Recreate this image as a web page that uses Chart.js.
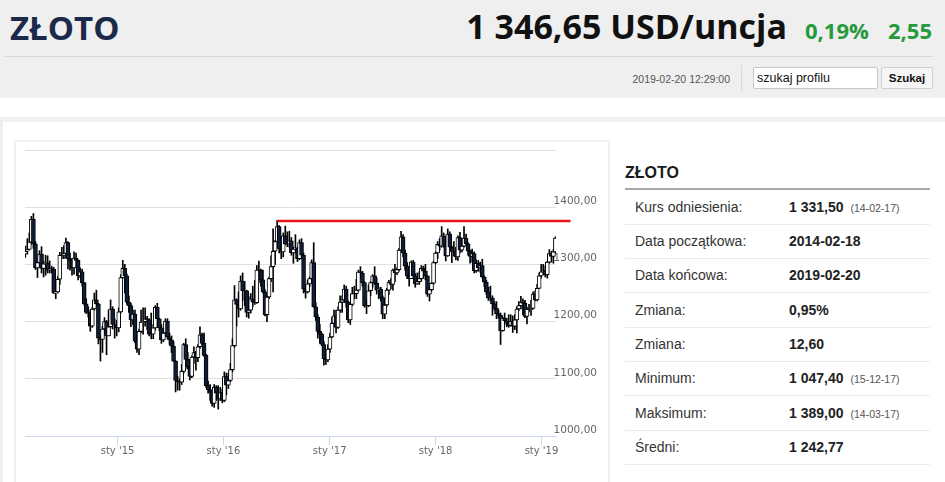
<!DOCTYPE html>
<html lang="pl">
<head>
<meta charset="utf-8">
<script src="https://cdn.jsdelivr.net/npm/chart.js@4.4.1/dist/chart.umd.min.js"></script>
<style>
  body { margin: 0; width: 945px; height: 482px; overflow: hidden; background: #efefef; position: relative;
         font-family: "Liberation Sans", Arial, sans-serif; }
  .abs { position: absolute; }
  #title { left: 10px; top: 11px; font: 700 33px/33px "Open Sans"; color: #1b2a4a; white-space: nowrap; }
  #price { right: 158px; top: 9px; font: 700 34px/34px "Open Sans"; color: #111; white-space: nowrap; }
  .green { top: 19px; font: 700 22px/22px "Open Sans"; color: #269a3c; white-space: nowrap; }
  #hline { left: 5px; top: 56px; width: 928px; height: 1px; background: #d6d6d6; }
  #stamp { right: 215px; top: 72px; font-size: 10.5px; line-height: 14px; color: #555; }
  #sep { left: 741px; top: 65px; width: 1px; height: 26px; background: #d9d9d9; }
  #search { left: 753px; top: 67px; height: 20px; background: #fff; border: 1px solid #c8c8c8;
            border-radius: 2px; font-size: 12.5px; line-height: 20px; padding-left: 3px; width: 120px; color: #111; }
  #btn { left: 881px; top: 67px; width: 50px; height: 20px; background: #f5f5f5; border: 1px solid #cfcfcf;
         border-radius: 2px; font-weight: 700; font-size: 11.5px; line-height: 20px; text-align: center; color: #111; }
  #strip { left: 0; top: 98px; width: 945px; height: 19px; background: #fff; }
  #panel { left: 3px; top: 122px; width: 942px; height: 360px; background: #fff; }
  #box { left: 14px; top: 140px; width: 596px; height: 400px; border: 2px solid #f0f0f0; box-sizing: border-box; }
  #wrap { left: 14px; top: 140px; width: 596px; height: 342px; }
  #ttitle { left: 625px; top: 165px; font: 700 16px/16px "Liberation Sans", Arial, sans-serif; color: #1a1a1a; }
  #tline { left: 625px; top: 188px; width: 305px; height: 2px; background: #a8a8a8; }
  .row { position: absolute; left: 625px; width: 305px; height: 33px; border-bottom: 1px solid #ebebeb;
         line-height: 33px; font-size: 14px; color: #333; white-space: nowrap; }
  .row .lab { position: absolute; left: 10px; }
  .row .val { position: absolute; left: 164px; font-weight: 700; color: #222; }
  .row small { font-weight: 400; font-size: 10.5px; color: #555; margin-left: 7px; }
</style>
</head>
<body>
<div class="abs" id="title">ZŁOTO</div>
<div class="abs" id="price">1 346,65 USD/uncja</div>
<div class="abs green" style="left:805px">0,19%</div>
<div class="abs green" style="left:888px">2,55</div>
<div class="abs" id="hline"></div>
<div class="abs" id="stamp">2019-02-20 12:29:00</div>
<div class="abs" id="sep"></div>
<div class="abs" id="search">szukaj profilu</div>
<div class="abs" id="btn">Szukaj</div>
<div class="abs" id="strip"></div>
<div class="abs" id="panel"></div>
<div class="abs" id="box"></div>
<div class="abs" id="wrap"><canvas id="chart" width="596" height="342"></canvas></div>

<div class="abs" id="ttitle">ZŁOTO</div>
<div class="abs" id="tline"></div>
<div class="row" style="top:191px"><span class="lab">Kurs odniesienia:</span><span class="val">1 331,50<small>(14-02-17)</small></span></div>
<div class="row" style="top:225px"><span class="lab">Data początkowa:</span><span class="val">2014-02-18</span></div>
<div class="row" style="top:259px"><span class="lab">Data końcowa:</span><span class="val">2019-02-20</span></div>
<div class="row" style="top:294px"><span class="lab">Zmiana:</span><span class="val">0,95%</span></div>
<div class="row" style="top:328px"><span class="lab">Zmiana:</span><span class="val">12,60</span></div>
<div class="row" style="top:362px"><span class="lab">Minimum:</span><span class="val">1 047,40<small>(15-12-17)</small></span></div>
<div class="row" style="top:397px"><span class="lab">Maksimum:</span><span class="val">1 389,00<small>(14-03-17)</small></span></div>
<div class="row" style="top:431px"><span class="lab">Średni:</span><span class="val">1 242,77</span></div>

<script>
// tygodniowe świece, pierwszy tydzień 2014-02-17
const opens = [
  1318,1323,1326,1339,1379,1336,1294,1303,1318,1293,1301,1302,1290,1293,1292,1250,1252,1274,1316,1316,1319,1338,1310,1307,1294,1311,1307,1280,1287,1268,1231,1216,1215,1192,1222,1238,1231,1171,1169,1187,1200,1175,1191,1222,1195,1195,
  1189,1217,1277,1293,1280,1234,1228,1203,1213,1166,1152,1183,1199,1200,1205,1203,1178,1178,1189,1225,1205,1189,1168,1180,1201,1173,1168,1157,1131,1097,1095,1094,1113,1160,1134,1121,1104,1138,1146,1137,1156,1177,1162,1141,1088,1081,1076,1057,1085,1075,1065,1076,
  1062,1104,1089,1097,1116,1158,1238,1230,1222,1271,1254,1254,1216,1220,1240,1234,1233,1290,1290,1273,1252,1212,1243,1275,1296,1323,1340,1366,1327,1322,1350,1336,1336,1341,1320,1327,1328,1310,1338,1316,1257,1252,1266,1275,1303,1226,1208,1183,1178,1160,1135,1133,
  1152,1173,1197,1210,1190,1220,1234,1238,1257,1234,1203,1230,1249,1249,1255,1287,1285,1268,1228,1228,1254,1268,1280,1267,1255,1257,1242,1213,1229,1255,1269,1265,1290,1285,1291,1325,1348,1320,1297,1280,1275,1304,1280,1266,1270,1275,1293,1288,1280,1248,1256,1267,
  1303,1320,1335,1332,1350,1333,1315,1353,1330,1323,1323,1313,1347,1325,1332,1346,1336,1323,1314,1319,1289,1302,1294,1298,1278,1269,1252,1241,1241,1231,1223,1214,1211,1184,1206,1201,1199,1193,1201,1192,1203,1222,1228,1234,1232,1209,1222,1221,1223,1248,1238,1258,1280,
  1287,1289,1282,1304,1319,1314,1322
];
const highs = [
  1332,1345,1355,1384,1389,1340,1305,1324,1331,1305,1316,1315,1306,1297,1295,1256,1279,1321,1330,1333,1346,1340,1320,1310,1322,1320,1308,1294,1292,1268,1240,1226,1220,1225,1250,1255,1232,1175,1192,1207,1202,1220,1238,1226,1205,1202,
  1224,1282,1307,1300,1283,1245,1232,1220,1220,1173,1187,1220,1224,1224,1209,1205,1215,1195,1228,1232,1206,1195,1188,1205,1205,1180,1175,1165,1132,1104,1100,1125,1162,1170,1146,1126,1140,1156,1148,1160,1191,1180,1180,1143,1096,1090,1080,1090,1088,1088,1085,1082,
  1112,1110,1110,1127,1170,1263,1240,1252,1280,1285,1270,1255,1244,1249,1262,1272,1298,1306,1292,1290,1256,1247,1278,1315,1362,1342,1377,1368,1335,1355,1367,1357,1358,1347,1330,1352,1330,1343,1345,1320,1265,1273,1278,1308,1338,1233,1212,1195,1180,1165,1140,1160,
  1180,1208,1220,1220,1226,1245,1245,1264,1262,1236,1232,1260,1262,1274,1290,1296,1288,1270,1237,1264,1270,1282,1296,1276,1260,1260,1245,1232,1258,1272,1275,1292,1300,1294,1328,1358,1352,1325,1303,1282,1306,1307,1284,1285,1287,1298,1297,1300,1280,1260,1268,1305,
  1322,1340,1345,1366,1355,1340,1362,1357,1332,1340,1330,1350,1356,1345,1366,1353,1338,1325,1327,1322,1308,1307,1304,1309,1280,1272,1260,1262,1245,1235,1235,1220,1215,1208,1215,1206,1212,1212,1210,1212,1226,1235,1244,1240,1237,1225,1230,1237,1252,1254,1265,1285,1300,
  1300,1297,1306,1326,1323,1326,1348
];
const lows = [
  1312,1318,1326,1335,1328,1291,1277,1297,1285,1278,1281,1285,1285,1285,1249,1240,1250,1265,1310,1310,1311,1292,1290,1281,1283,1302,1273,1277,1262,1229,1214,1208,1183,1190,1220,1228,1161,1131,1146,1180,1142,1175,1190,1187,1171,1175,
  1182,1215,1276,1250,1230,1216,1191,1195,1163,1146,1142,1180,1178,1192,1186,1175,1170,1170,1185,1200,1184,1162,1165,1175,1170,1160,1146,1130,1077,1080,1080,1090,1110,1118,1117,1098,1102,1127,1115,1130,1153,1158,1139,1085,1075,1062,1052,1050,1062,1047,1062,1058,
  1060,1072,1083,1095,1112,1155,1192,1208,1220,1237,1228,1208,1206,1215,1226,1230,1232,1268,1262,1250,1210,1200,1240,1270,1252,1300,1336,1320,1310,1313,1334,1331,1330,1316,1302,1320,1305,1308,1310,1250,1241,1250,1261,1272,1225,1202,1171,1162,1158,1124,1125,1130,
  1146,1172,1195,1180,1188,1216,1216,1233,1225,1198,1195,1228,1240,1240,1253,1276,1262,1225,1214,1226,1245,1260,1265,1248,1240,1236,1205,1205,1227,1247,1257,1255,1270,1282,1288,1322,1313,1290,1275,1262,1275,1278,1260,1265,1265,1271,1276,1273,1244,1236,1253,1265,
  1301,1310,1325,1330,1330,1306,1314,1322,1303,1315,1308,1307,1320,1322,1330,1332,1316,1302,1304,1285,1286,1288,1286,1276,1261,1247,1237,1236,1211,1220,1205,1206,1160,1183,1195,1191,1190,1192,1181,1186,1180,1219,1222,1212,1207,1196,1217,1211,1222,1236,1236,1258,1276,
  1282,1278,1276,1302,1304,1302,1320
];
const closes = [
  1323,1326,1339,1379,1336,1294,1303,1318,1293,1301,1302,1290,1293,1292,1250,1252,1274,1316,1316,1319,1338,1310,1307,1294,1311,1307,1280,1287,1268,1231,1216,1215,1192,1222,1238,1231,1171,1169,1187,1200,1175,1191,1222,1195,1195,1189,
  1217,1277,1293,1280,1234,1228,1203,1213,1166,1152,1183,1199,1200,1205,1203,1178,1178,1189,1225,1205,1189,1168,1180,1201,1173,1168,1157,1131,1097,1095,1094,1113,1160,1134,1121,1104,1138,1146,1137,1156,1177,1162,1141,1088,1081,1076,1057,1085,1075,1065,1076,1062,
  1104,1089,1097,1116,1158,1238,1230,1222,1271,1254,1254,1216,1220,1240,1234,1233,1290,1290,1273,1252,1212,1243,1275,1296,1323,1340,1366,1327,1322,1350,1336,1336,1341,1320,1327,1328,1310,1338,1316,1257,1252,1266,1275,1303,1226,1208,1183,1178,1160,1135,1133,1152,
  1173,1197,1210,1190,1220,1234,1238,1257,1234,1203,1230,1249,1249,1255,1287,1285,1268,1228,1228,1254,1268,1280,1267,1255,1257,1242,1213,1229,1255,1269,1265,1290,1285,1291,1325,1348,1320,1297,1280,1275,1304,1280,1266,1270,1275,1293,1288,1280,1248,1256,1267,1303,
  1320,1335,1332,1350,1333,1315,1353,1330,1323,1323,1313,1347,1325,1332,1346,1336,1323,1314,1319,1289,1302,1294,1298,1278,1269,1252,1241,1241,1231,1223,1214,1211,1184,1206,1201,1199,1193,1201,1192,1203,1222,1228,1234,1232,1209,1222,1221,1223,1248,1238,1258,1280,1287,
  1289,1282,1304,1319,1314,1322,1346
];

const yearTicks = [Date.UTC(2015, 0, 1), Date.UTC(2016, 0, 1), Date.UTC(2017, 0, 1), Date.UTC(2018, 0, 1), Date.UTC(2019, 0, 1)];
const yearLabels = ["sty '15", "sty '16", "sty '17", "sty '18", "sty '19"];
const priceTicks = [1000, 1100, 1200, 1300, 1400, 1500];

// linia oporu
const resistance = 1376;
const resistanceFrom = Date.UTC(2016, 6, 4);
const resistanceTo = Date.UTC(2019, 3, 11);

const weekX = closes.map((c, i) => Date.UTC(2014, 1, 17 + 7 * i));
const bodies = closes.map((c, i) => ({ x: weekX[i], y: [opens[i], c] }));
const wicks = closes.map((c, i) => ({ x: weekX[i], y: [lows[i], highs[i]] }));
const bodyFill = closes.map((c, i) => c >= opens[i] ? '#ffffff' : '#0f1d38');

new Chart(document.getElementById('chart'), {
  type: 'bar',
  data: {
    datasets: [
      {
        type: 'line',
        data: [{ x: resistanceFrom, y: resistance }, { x: resistanceTo, y: resistance }],
        borderColor: '#e8141c',
        borderWidth: 2.5,
        pointRadius: 0,
        clip: false,
        order: 0
      },
      {
        data: bodies,
        backgroundColor: bodyFill,
        borderColor: '#000',
        borderWidth: 1,
        borderSkipped: false,
        barThickness: 4,
        grouped: false,
        order: 1
      },
      {
        data: wicks,
        backgroundColor: '#000',
        barThickness: 1,
        grouped: false,
        order: 2
      }
    ]
  },
  options: {
    responsive: false,
    animation: false,
    layout: { padding: { left: 11, top: 10, right: 0, bottom: 0 } },
    plugins: {
      legend: { display: false },
      tooltip: { enabled: false }
    },
    scales: {
      x: {
        type: 'linear',
        offset: false,
        min: Date.UTC(2014, 1, 16),
        max: Date.UTC(2019, 1, 20),
        afterBuildTicks: s => { s.ticks = yearTicks.map(v => ({ value: v })); },
        afterFit: s => { s.height = 46; },
        grid: { offset: false, drawOnChartArea: false, color: '#ccd6eb', tickLength: 9 },
        border: { color: '#ccd6eb' },
        ticks: {
          autoSkip: false,
          maxRotation: 0,
          padding: 0,
          color: '#666',
          font: { family: 'DejaVu Sans', size: 10 },
          callback: (v, i) => yearLabels[i]
        }
      },
      y: {
        position: 'right',
        min: 1000,
        max: 1500,
        afterBuildTicks: s => { s.ticks = priceTicks.map(v => ({ value: v })); },
        afterFit: s => { s.width = 54; s.paddingTop = 0; s.paddingBottom = 0; },
        grid: { color: '#e0e0e0', drawTicks: false },
        border: { display: false },
        ticks: {
          mirror: true,
          padding: 41,
          labelOffset: -6,
          color: '#666',
          font: { family: 'DejaVu Sans', size: 10.5 },
          callback: v => v === 1500 ? '' : v.toFixed(2).replace('.', ',')
        }
      }
    }
  }
});
</script>
</body>
</html>
